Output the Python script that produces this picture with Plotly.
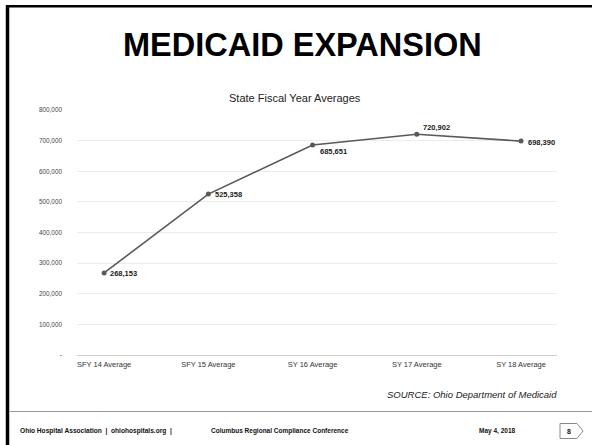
import plotly.graph_objects as go

categories = ["SFY 14 Average", "SFY 15 Average", "SY 16 Average", "SY 17 Average", "SY 18 Average"]
values = [268153, 525358, 685651, 720902, 698390]
value_labels = ["268,153", "525,358", "685,651", "720,902", "698,390"]
ytick_vals = [0, 100000, 200000, 300000, 400000, 500000, 600000, 700000, 800000]
ytick_text = ["-", "100,000", "200,000", "300,000", "400,000", "500,000", "600,000", "700,000", "800,000"]

W, H = 592, 445
L, R, T, B = 77, 35, 110, 90
PW, PH = W - L - R, H - T - B


def px(x):
    return (x - L) / PW


def py(y):
    return (H - B - y) / PH


FONT = "Liberation Sans, Arial, sans-serif"
LINE = "#595959"

fig = go.Figure()
fig.add_trace(go.Scatter(
    x=categories, y=values, mode="lines+markers",
    line=dict(color=LINE, width=1.6),
    marker=dict(color=LINE, size=5),
    hoverinfo="skip", showlegend=False,
))

# data labels (offsets in pixels)
offsets = [(4, -1), (5, 0), (5, -6), (4, 7), (5, -1)]
annotations = []
for c, v, t, (dx, dy) in zip(categories, values, value_labels, offsets):
    annotations.append(dict(
        x=c, y=v, xref="x", yref="y", text="<b>%s</b>" % t, showarrow=False,
        xanchor="left", yanchor="middle", xshift=dx, yshift=dy,
        font=dict(family=FONT, size=7.5, color="#1a1a1a"),
    ))


def txt(x, y, text, size, anchor="center", color="#000", family=FONT):
    annotations.append(dict(
        x=px(x), y=py(y), xref="paper", yref="paper", text=text, showarrow=False,
        xanchor=anchor, yanchor="middle", font=dict(family=family, size=size, color=color),
    ))


txt(302, 45, "<b>MEDICAID EXPANSION</b>", 32.5)
txt(295, 98, "State Fiscal Year Averages", 11, color="#222")
txt(559, 394, "<i>SOURCE: Ohio Department of Medicaid</i>", 9.5, anchor="right", color="#222")
txt(18, 431, "<b>Ohio Hospital Association &nbsp;|&nbsp; ohiohospitals.org &nbsp;|</b>", 6.6, anchor="left", color="#111")
txt(209, 431, "<b>Columbus Regional Compliance Conference</b>", 6.5, anchor="left", color="#111")
txt(497, 431, "<b>May 4, 2018</b>", 6.5, color="#111")
txt(569, 431, "<b>8</b>", 7, color="#111")

shapes = [
    # left thick border
    dict(type="line", xref="paper", yref="paper", x0=px(7.5), x1=px(7.5), y0=py(5), y1=py(445),
         line=dict(color="#000", width=3.5)),
    # top thick border
    dict(type="line", xref="paper", yref="paper", x0=px(6), x1=px(592), y0=py(6.2), y1=py(6.2),
         line=dict(color="#000", width=2.5)),
    # footer separator
    dict(type="line", xref="paper", yref="paper", x0=px(9), x1=px(592), y0=py(411.5), y1=py(411.5),
         line=dict(color="#9a9a9a", width=1)),
    # page number tag
    dict(type="path", xref="paper", yref="paper",
         path="M %f,%f L %f,%f L %f,%f L %f,%f L %f,%f Z" % (
             px(560), py(423.5), px(577), py(423.5), px(583), py(431), px(577), py(438.5), px(560), py(438.5)),
         line=dict(color="#8a8a8a", width=1), fillcolor="rgba(0,0,0,0)"),
]

fig.update_layout(
    width=W, height=H, margin=dict(l=L, r=R, t=T, b=B),
    paper_bgcolor="white", plot_bgcolor="white",
    annotations=annotations, shapes=shapes,
    xaxis=dict(
        type="category", showgrid=False, showline=True, linecolor="#cfcfcf", linewidth=1,
        ticks="", tickfont=dict(family=FONT, size=7.5, color="#333"), ticklabelstandoff=2,
        fixedrange=True,
    ),
    yaxis=dict(
        range=[0, 800000], tickvals=ytick_vals, ticktext=ytick_text,
        showgrid=True, gridcolor="#ececec", gridwidth=1, zeroline=False, showline=False,
        ticks="", tickfont=dict(family=FONT, size=6.4, color="#444"), ticklabelstandoff=14,
        fixedrange=True,
    ),
)

fig.write_html(
    "out.html",
    config={"displayModeBar": False},
    post_script="document.body.style.margin='0';document.body.style.padding='0';"
                "document.documentElement.style.overflow='hidden';document.body.style.overflow='hidden';",
)
